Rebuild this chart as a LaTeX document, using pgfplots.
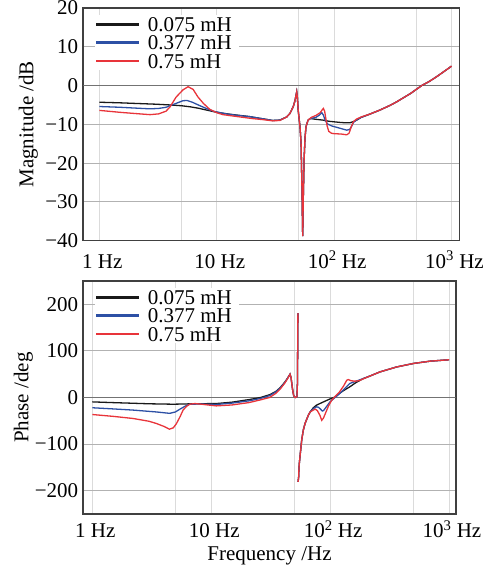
\documentclass[border=0pt]{standalone}
\usepackage{fontspec}
\setmainfont{Liberation Serif}
\usepackage{pgfplots}
\pgfplotsset{compat=1.18}
\newcommand{\fs}{\fontsize{21bp}{23bp}\selectfont}
\definecolor{cblack}{RGB}{25,25,25}
\definecolor{cblue}{RGB}{45,80,165}
\definecolor{cred}{RGB}{232,52,58}
\pgfplotsset{
  pl/.style={line width=1.3bp, mark=none},
  every axis x grid/.append style={draw=black!14, line width=0.8bp},
  every axis y grid/.append style={draw=black!30, line width=0.9bp},
}
\begin{document}
\begin{tikzpicture}
\begin{semilogxaxis}[
  scale only axis,
  axis line style={draw=black!75, line width=1.6bp},
  major tick length=0pt, minor tick length=0pt,
  xtick={1,5,10,50,100,500,1000},
  xticklabels={1 Hz,,10 Hz,,10\textsuperscript{2} Hz,,10\textsuperscript{3} Hz},
  xmajorgrids, ymajorgrids,
  tick label style={font=\fs},
  label style={font=\fs},
  yticklabel style={anchor=east, inner sep=0pt, xshift=-5bp},
  legend cell align=left,
  legend image code/.code={\draw[#1, line width=2.6bp] (0bp,0bp) -- (43bp,0bp);},
  legend style={at={(axis description cs:0,1)}, anchor=north west,
    xshift=11.7bp, yshift=-7.3bp, draw=none, fill=white, inner sep=0pt,
    row sep=0.3bp,
    nodes={inner xsep=7bp, inner ysep=2bp, text height=14bp, text depth=0bp, font=\fs}},
  at={(83.3bp,328.3bp)}, anchor=south west,
  width=376bp, height=232.7bp,
  xmin=0.73, xmax=1165, ymin=-40, ymax=20,
  ytick={-40,-30,-20,-10,0,10,20},
  yticklabels={−40,−30,−20,−10,0,10,20},
  xticklabel style={anchor=base, inner sep=0pt, yshift=-27.6bp, xshift=3bp},
  ylabel={Magnitude /dB},
  ylabel style={at={(axis description cs:-0.146,0.5)}, anchor=center},
]
\draw[black!55, line width=1.1bp] (axis cs:0.73,0) -- (axis cs:1165,0);
\addplot[pl, cblack] coordinates {
(1,-4.3) (1.5,-4.45) (2,-4.6) (3,-4.8) (4,-5.0) (5,-5.2) (6,-5.5) (7,-5.85) (8,-6.25) (10,-6.9) (13,-7.4) (19,-8.0) (25,-8.6) (30,-9.0) (34.5,-8.9) (39.4,-8.1) (42,-7.2) (44.9,-5.4) (46.5,-3.8) (47.5,-2.3) (48,-1.6) (48.6,-3.0) (49.4,-6.3) (50.3,-8.5) (51.2,-10.6) (52.3,-14.9) (53.3,-27.8) (54,-38.8) (54.7,-28) (55.5,-19) (56.5,-13.5) (57.6,-10.6) (60,-8.9) (63,-8.5) (70,-8.7) (80,-8.9) (90,-9.2) (100,-9.35) (112,-9.5) (125,-9.6) (136,-9.6) (146,-9.3) (156,-8.9) (170,-8.2) (200,-7.4) (246,-6.3) (300,-5.1) (341,-4.2) (450,-2.0) (557,0) (650,1.1) (748,2.3) (870,3.7) (1000,5.0)
};
\addlegendentry{0.075 mH}
\addplot[pl, cblue] coordinates {
(1,-5.4) (1.5,-5.6) (2,-5.8) (2.7,-6.0) (3.2,-5.9) (3.7,-5.6) (4.5,-4.6) (5.16,-3.9) (5.6,-3.85) (6.2,-4.3) (7.2,-5.2) (8.3,-6.0) (9.3,-6.6) (12,-7.3) (15,-7.7) (19,-8.0) (25,-8.6) (30,-9.0) (34.5,-8.9) (39.4,-8.1) (42,-7.2) (44.9,-5.4) (46.5,-3.8) (47.5,-2.3) (48,-1.6) (48.6,-3.0) (49.4,-6.3) (50.3,-8.5) (51.2,-10.6) (52.3,-14.9) (53.3,-27.8) (54,-38.8) (54.7,-28) (55.5,-19) (56.5,-13.5) (57.6,-10.6) (60,-8.9) (63,-8.5) (70,-8.2) (75,-7.6) (78.5,-7.0) (81,-7.6) (84,-9.0) (88,-9.9) (95,-10.4) (112,-11.0) (128,-11.5) (136,-11.3) (142,-10.3) (146,-9.5) (156,-8.8) (170,-8.2) (200,-7.4) (246,-6.3) (300,-5.1) (341,-4.2) (450,-2.0) (557,0) (650,1.1) (748,2.3) (870,3.7) (1000,5.0)
};
\addlegendentry{0.377 mH}
\addplot[pl, cred] coordinates {
(1,-6.4) (1.5,-6.9) (2,-7.2) (2.7,-7.5) (3.2,-7.3) (3.7,-6.6) (4.0,-5.5) (4.5,-3.0) (5.16,-1.1) (5.7,-0.3) (6.3,-1.0) (6.9,-2.9) (7.7,-4.6) (8.7,-6.1) (10,-7.0) (11.3,-7.5) (15,-8.0) (20,-8.5) (25,-8.8) (30,-9.1) (34.5,-9.0) (39.4,-8.1) (42,-7.2) (44.9,-5.4) (46.5,-3.8) (47.5,-2.3) (48,-1.6) (48.6,-3.0) (49.4,-6.3) (50.3,-8.5) (51.2,-10.6) (52.3,-14.9) (53.3,-27.8) (54,-38.8) (54.7,-28) (55.5,-19) (56.5,-13.5) (57.6,-10.6) (60,-8.9) (64,-8.2) (70,-7.7) (76,-7.0) (79,-6.3) (81,-5.9) (83,-6.6) (85,-8.5) (87,-10.3) (90,-11.8) (95,-12.3) (100,-12.4) (115,-12.5) (128,-12.7) (134,-12.3) (140,-10.6) (146,-9.3) (156,-8.6) (170,-8.1) (200,-7.4) (246,-6.3) (300,-5.1) (341,-4.2) (450,-2.0) (557,0) (650,1.1) (748,2.3) (870,3.7) (1000,5.0)
};
\addlegendentry{0.75 mH}
\end{semilogxaxis}

\begin{semilogxaxis}[
  scale only axis,
  axis line style={draw=black!75, line width=1.6bp},
  major tick length=0pt, minor tick length=0pt,
  xtick={1,5,10,50,100,500,1000},
  xticklabels={1 Hz,,10 Hz,,10\textsuperscript{2} Hz,,10\textsuperscript{3} Hz},
  xmajorgrids, ymajorgrids,
  tick label style={font=\fs},
  label style={font=\fs},
  yticklabel style={anchor=east, inner sep=0pt, xshift=-5bp},
  unbounded coords=jump,
  legend cell align=left,
  legend image code/.code={\draw[#1, line width=2.6bp] (0bp,0bp) -- (43bp,0bp);},
  legend style={at={(axis description cs:0,1)}, anchor=north west,
    xshift=11.7bp, yshift=-7.3bp, draw=none, fill=white, inner sep=0pt,
    row sep=0.3bp,
    nodes={inner xsep=7bp, inner ysep=2bp, text height=14bp, text depth=0bp, font=\fs}},
  at={(83.3bp,55bp)}, anchor=south west,
  width=372.4bp, height=233bp,
  xmin=0.84, xmax=1138, ymin=-250, ymax=250,
  ytick={-200,-100,0,100,200},
  yticklabels={−200,−100,0,100,200},
  xticklabel style={anchor=base, inner sep=0pt, yshift=-23.7bp, xshift=3bp},
  ylabel={Phase /deg},
  ylabel style={at={(axis description cs:-0.161,0.5)}, anchor=center},
  xlabel={Frequency /Hz},
  xlabel style={at={(axis description cs:0.5,0)}, anchor=base, inner sep=0pt, yshift=-46.7bp},
]
\draw[black!55, line width=1.1bp] (axis cs:0.84,0) -- (axis cs:1138,0);
\addplot[pl, cblack] coordinates {
(1,-9.4) (1.5,-11) (2,-12) (3,-13.5) (4.8,-14.4) (7,-13.5) (11,-13) (15,-10) (21,-4.3) (26,0) (31,6) (35,13) (38,21) (41.6,33) (44,42) (46,50) (47,42) (47.6,30) (48.5,15) (49.3,5) (50.2,1) (51,0) (52,1) (52.6,2) (53.1,30) (53.4,120) (53.6,181) (53.65,nan) (53.8,-181) (54.4,-170) (54.7,-152) (55.1,-141) (55.8,-127) (57.7,-91) (59.5,-70) (61.5,-56) (65.6,-38) (68,-31) (72.2,-22) (76.8,-16.5) (82,-13) (88,-9.4) (100,-3) (110,1) (117,7) (130,15) (146,22.7) (165,32) (190,40.6) (216,46) (263,55) (362,65.5) (501,73) (694,78) (1000,81)
};
\addlegendentry{0.075 mH}
\addplot[pl, cblue] coordinates {
(1,-22) (1.5,-24.5) (2.2,-27) (3.45,-31) (4.48,-34) (5,-31) (5.4,-25.7) (6,-19) (6.6,-14.4) (8,-14) (11,-15) (15,-12) (21,-7) (26,-2) (31,4) (35,12) (38,20) (41.6,32) (44,42) (46,50) (47,42) (47.6,30) (48.5,15) (49.3,5) (50.2,1) (51,0) (52,1) (52.6,2) (53.1,30) (53.4,120) (53.6,181) (53.65,nan) (53.8,-181) (54.4,-170) (54.7,-152) (55.1,-141) (55.8,-127) (57.7,-91) (59.5,-70) (61.5,-56) (65.6,-38) (68,-31) (72.2,-24) (76.8,-20) (80,-21) (83,-25) (86,-29) (88,-28) (93,-20) (100,-9) (110,0) (120,8) (130,17) (146,30) (165,35) (190,40.6) (216,46) (263,55) (362,65.5) (501,73) (694,78) (1000,81)
};
\addlegendentry{0.377 mH}
\addplot[pl, cred] coordinates {
(1,-36.5) (1.5,-40.5) (2.2,-45) (3,-51) (3.45,-55.7) (4,-62) (4.45,-68) (4.8,-65) (5.1,-56) (5.5,-40) (5.8,-27) (6.2,-19) (6.6,-14.4) (7.3,-13) (8,-14) (11,-18) (15,-16) (21,-10.7) (26,-5) (31,0) (35,9) (38,18) (41.6,31) (44,41) (46,50) (47,42) (47.6,30) (48.5,15) (49.3,5) (50.2,1) (51,0) (52,1) (52.6,2) (53.1,30) (53.4,120) (53.6,181) (53.65,nan) (53.8,-181) (54.4,-170) (54.7,-152) (55.1,-141) (55.8,-127) (57.7,-91) (59.5,-70) (61.5,-56) (65.6,-38) (68,-31) (72.2,-27) (75,-25) (78,-28) (82,-38) (85,-49) (88,-44) (92,-32) (97,-18) (103,-6) (110,2) (120,12) (130,25) (138,37) (142,38.5) (150,36) (162,35) (175,36) (190,40) (216,46) (263,55) (362,65.5) (501,73) (694,78) (1000,81)
};
\addlegendentry{0.75 mH}
\end{semilogxaxis}
\pgfresetboundingbox
\path[use as bounding box] (0bp,0bp) rectangle (494bp,569bp);
\end{tikzpicture}
\end{document}
